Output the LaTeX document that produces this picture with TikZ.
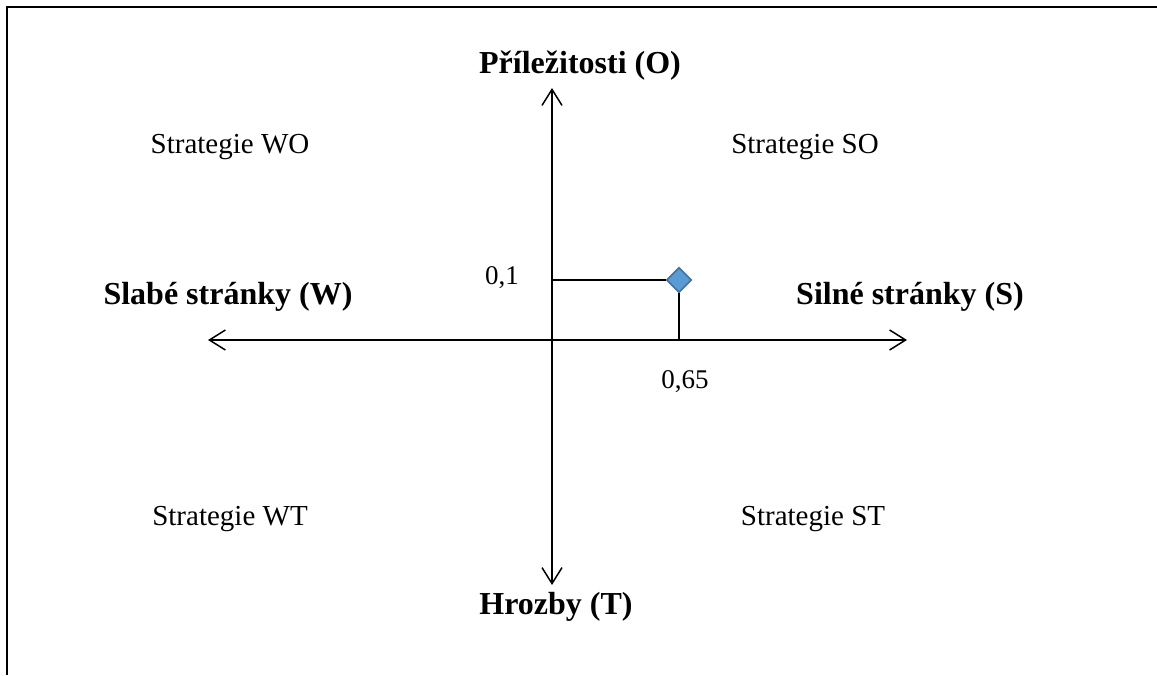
\documentclass[tikz,border=0pt]{standalone}
\usepackage{fontspec}
\setmainfont{Liberation Serif}
\usetikzlibrary{arrows.meta,shapes.geometric}
\definecolor{markfill}{RGB}{91,155,213}
\definecolor{markline}{RGB}{65,113,156}
\begin{document}
\begin{tikzpicture}[x=0.5pt,y=-0.5pt,
				every node/.style={inner sep=0pt},
				axis/.style={line width=0.75pt,{Straight Barb[length=8pt,width=10pt]}-{Straight Barb[length=8pt,width=10pt]}},
				title/.style={font=\fontsize{16}{19}\selectfont\bfseries},
				quad/.style={font=\fontsize{14.5}{17}\selectfont},
				val/.style={font=\fontsize{13.5}{16}\selectfont},
				posmark/.style={diamond,minimum size=12.5pt,fill=markfill,draw=markline,line width=0.8pt}]
\useasboundingbox (0,0) rectangle (1157,675);
\draw[line width=1.2pt] (7,675) -- (7,7) -- (1157,7);
% axes
\coordinate (top) at (552,88);
\coordinate (bottom) at (552,585);
\coordinate (left) at (208,340);
\coordinate (right) at (907,340);
\coordinate (yval) at (552,280);
\coordinate (xval) at (679,340);
\draw[axis] (bottom) -- (top);
\draw[axis] (left) -- (right);
\node (o) [title] at (580,66) {Příležitosti (O)};
\node (t) [title] at (556,607) {Hrozby (T)};
\node (w) [title] at (228,297) {Slabé stránky (W)};
\node (s) [title] at (910,297) {Silné stránky (S)};
\node (wo) [quad] at (230,147) {Strategie WO};
\node (so) [quad] at (805,147) {Strategie SO};
\node (wt) [quad] at (230,519) {Strategie WT};
\node (st) [quad] at (813,519) {Strategie ST};
% position
\node (pos) [posmark] at (679,280) {};
\draw[line width=0.6pt] (yval) -- (pos.west);
\draw[line width=0.6pt] (pos.south) -- (xval);
\node (vo) [val] at (502,278) {0,1};
\node (vs) [val] at (685,382) {0,65};
\end{tikzpicture}
\end{document}
